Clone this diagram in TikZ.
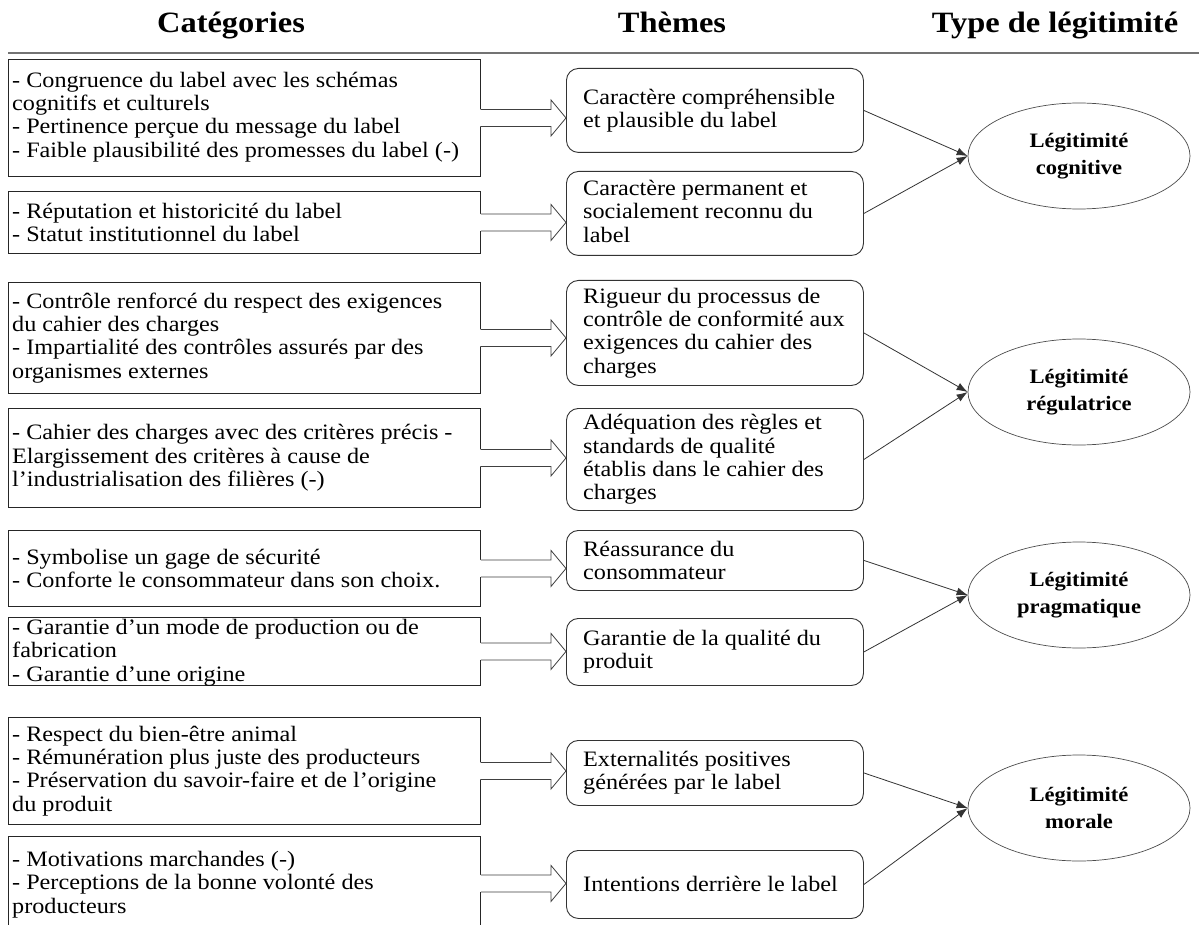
\documentclass[tikz,border=0pt]{standalone}
\usepackage{fontspec}
\setmainfont{Liberation Serif}[FakeStretch=1.1]
\usetikzlibrary{shapes.geometric,arrows.meta,calc}
\newcommand\bodyfont{\fontsize{22}{23.3}\selectfont}
\newcommand\legfont{\fontsize{20.5}{27}\selectfont\bfseries}
\newcommand\headfont{\fontsize{29.5}{34}\selectfont\bfseries}
\tikzset{
  cat/.style={draw=black!85, line width=0.9pt, anchor=north west, minimum width=472pt, inner sep=0pt},
  cattext/.style={anchor=west, align=left, inner sep=0pt, font=\bodyfont},
  theme/.style={draw=black!80, rounded corners=12pt, line width=0.9pt, anchor=north west, minimum width=297pt, inner sep=0pt},
  legit/.style={draw=black!70, ellipse, minimum width=222pt, minimum height=106pt, line width=0.7pt, align=center, font=\legfont, inner sep=0pt},
  conn/.style={draw=black!80, line width=0.8pt, -{Latex[length=11pt,width=8pt]}},
  barr/.style={draw=black!75, line width=0.8pt, line join=miter},
  head/.style={font=\headfont, anchor=base, inner sep=0pt},
  hline/.style={draw=black!55, line width=1.5pt}
}
\newcommand\blockarr[2]{%
  \fill[white] ($(#1.east)+(-0.7,-8.5)$) -- ($(#2.west|-#1.east)+(-15,-8.5)$) -- ($(#2.west|-#1.east)+(-15,-18)$) -- (#2.west|-#1.east) -- ($(#2.west|-#1.east)+(-15,18)$) -- ($(#2.west|-#1.east)+(-15,8.5)$) -- ($(#1.east)+(-0.7,8.5)$) -- cycle;
  \draw[barr] ($(#1.east)+(0,-8.5)$) -- ($(#2.west|-#1.east)+(-15,-8.5)$) -- ($(#2.west|-#1.east)+(-15,-18)$) -- (#2.west|-#1.east) -- ($(#2.west|-#1.east)+(-15,18)$) -- ($(#2.west|-#1.east)+(-15,8.5)$) -- ($(#1.east)+(0,8.5)$);}
\begin{document}
\begin{tikzpicture}[x=1pt,y=-1pt]
\useasboundingbox[fill=white] (0,0) rectangle (1199,925);
% headers
\node[head] (h1) at (231,33) {Catégories};
\node[head] (h2) at (672,33) {Thèmes};
\node[head] (h3) at (1055,33) {Type de légitimité};
\draw[hline] (8,53) -- (1199,53);
% category boxes
\node[cat, minimum height=117pt] (c1) at (8,59) {};
\node[cattext] (c1t) at ($(c1.west)+(4,-1)$) {- Congruence du label avec les schémas\\cognitifs et culturels\\- Pertinence perçue du message du label\\- Faible plausibilité des promesses du label (-)};
\node[cat, minimum height=62pt] (c2) at (8,191) {};
\node[cattext] (c2t) at ($(c2.west)+(4,0)$) {- Réputation et historicité du label\\- Statut institutionnel du label};
\node[cat, minimum height=111pt] (c3) at (8,282) {};
\node[cattext] (c3t) at ($(c3.west)+(4,0)$) {- Contrôle renforcé du respect des exigences\\du cahier des charges\\- Impartialité des contrôles assurés par des\\organismes externes};
\node[cat, minimum height=99pt] (c4) at (8,408) {};
\node[cattext] (c4t) at ($(c4.west)+(4,0)$) {- Cahier des charges avec des critères précis -\\Elargissement des critères à cause de\\l’industrialisation des filières (-)};
\node[cat, minimum height=76pt] (c5) at (8,530) {};
\node[cattext] (c5t) at ($(c5.west)+(4,0)$) {- Symbolise un gage de sécurité\\- Conforte le consommateur dans son choix.};
\node[cat, minimum height=68pt] (c6) at (8,617) {};
\node[cattext] (c6t) at ($(c6.west)+(4,1)$) {- Garantie d’un mode de production ou de\\fabrication\\- Garantie d’une origine};
\node[cat, minimum height=107pt] (c7) at (8,717) {};
\node[cattext] (c7t) at ($(c7.west)+(4,0)$) {- Respect du bien-être animal\\- Rémunération plus juste des producteurs\\- Préservation du savoir-faire et de l’origine\\du produit};
\node[cat, minimum height=94pt] (c8) at (8,836) {};
\node[cattext] (c8t) at ($(c8.west)+(4,1)$) {- Motivations marchandes (-)\\- Perceptions de la bonne volonté des\\producteurs};
% theme boxes
\node[theme, minimum height=84pt] (t1) at (566,68) {};
\node[cattext] (t1t) at ($(t1.west)+(17,0)$) {Caractère compréhensible\\et plausible du label};
\node[theme, minimum height=84pt] (t2) at (566,171) {};
\node[cattext] (t2t) at ($(t2.west)+(17,-2)$) {Caractère permanent et\\socialement reconnu du\\label};
\node[theme, minimum height=105pt] (t3) at (566,280) {};
\node[cattext] (t3t) at ($(t3.west)+(17,0)$) {Rigueur du processus de\\contrôle de conformité aux\\exigences du cahier des\\charges};
\node[theme, minimum height=102pt] (t4) at (566,408) {};
\node[cattext] (t4t) at ($(t4.west)+(17,0)$) {Adéquation des règles et\\standards de qualité\\établis dans le cahier des\\charges};
\node[theme, minimum height=60pt] (t5) at (566,530) {};
\node[cattext] (t5t) at ($(t5.west)+(17,0)$) {Réassurance du\\consommateur};
\node[theme, minimum height=67pt] (t6) at (566,618) {};
\node[cattext] (t6t) at ($(t6.west)+(17,0)$) {Garantie de la qualité du\\produit};
\node[theme, minimum height=65pt] (t7) at (566,740) {};
\node[cattext] (t7t) at ($(t7.west)+(17,0)$) {Externalités positives\\générées par le label};
\node[theme, minimum height=68pt] (t8) at (566,850) {};
\node[cattext] (t8t) at ($(t8.west)+(17,0)$) {Intentions derrière le label};
% legitimacy ellipses
\node[legit] (e1) at (1079,156) {Légitimité\\cognitive};
\node[legit] (e2) at (1079,392) {Légitimité\\régulatrice};
\node[legit] (e3) at (1079,595) {Légitimité\\pragmatique};
\node[legit] (e4) at (1079,808) {Légitimité\\morale};
% block arrows
\blockarr{c1}{t1}
\blockarr{c2}{t2}
\blockarr{c3}{t3}
\blockarr{c4}{t4}
\blockarr{c5}{t5}
\blockarr{c6}{t6}
\blockarr{c7}{t7}
\blockarr{c8}{t8}
% connectors
\draw[conn] (t1.east) -- (e1.west);
\draw[conn] (t2.east) -- (e1.west);
\draw[conn] (t3.east) -- (e2.west);
\draw[conn] (t4.east) -- (e2.west);
\draw[conn] (t5.east) -- (e3.west);
\draw[conn] (t6.east) -- (e3.west);
\draw[conn] (t7.east) -- (e4.west);
\draw[conn] (t8.east) -- (e4.west);
\end{tikzpicture}
\end{document}
